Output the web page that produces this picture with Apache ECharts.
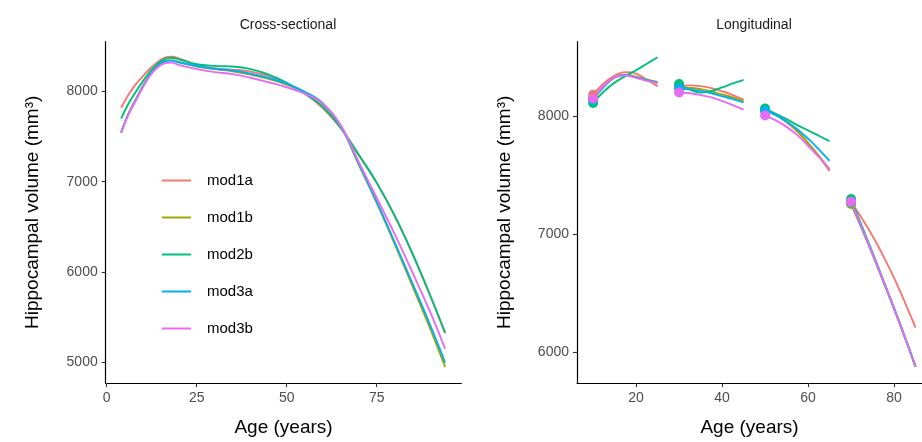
<!DOCTYPE html>
<html><head><meta charset="utf-8">
<script src="https://cdn.jsdelivr.net/npm/echarts@6/dist/echarts.min.js"></script>
<style>html,body{margin:0;padding:0;background:#fff}#c{width:922px;height:442px}</style>
</head><body><div id="c"></div>
<script>
// ---------- data ----------
const models = ['mod1a', 'mod1b', 'mod2b', 'mod3a', 'mod3b'];
const modelColors = ['#F8766D', '#A3A500', '#00BF7D', '#00B0F6', '#E76BF3'];

// Cross-sectional panel
const crossAges = [4, 6, 8, 10, 12, 14, 16, 18, 20, 25, 30, 35, 40, 45, 50, 55, 60, 65, 70, 75, 80, 85, 90, 94];
const cross_mod1a = [7818, 7960, 8075, 8165, 8250, 8320, 8370, 8383, 8365, 8290, 8255, 8240, 8218, 8170, 8090, 7975, 7815, 7592, 7294, 6985, 6620, 6195, 5722, 5322];
const cross_mod1b = [7543, 7750, 7905, 8055, 8185, 8280, 8335, 8345, 8325, 8275, 8245, 8222, 8185, 8138, 8075, 7988, 7860, 7610, 7190, 6765, 6310, 5840, 5360, 4950];
const cross_mod2b = [7697, 7860, 7990, 8110, 8215, 8300, 8355, 8372, 8355, 8300, 8282, 8275, 8245, 8185, 8095, 7975, 7830, 7600, 7300, 6990, 6625, 6200, 5730, 5330];
const cross_mod3a = [7543, 7745, 7900, 8050, 8180, 8275, 8330, 8340, 8320, 8280, 8250, 8230, 8195, 8148, 8085, 7995, 7870, 7620, 7200, 6780, 6330, 5870, 5400, 5000];
const cross_mod3b = [7543, 7740, 7890, 8040, 8170, 8260, 8310, 8318, 8292, 8245, 8212, 8190, 8150, 8100, 8045, 7975, 7865, 7625, 7220, 6820, 6420, 5990, 5545, 5150];

// Longitudinal panel: segments start at these ages, values at start + offsets
const longStarts = [10, 30, 50, 70];
const longOffsets = [0, 2.5, 5, 7.5, 10, 12.5, 15];
const long_mod1a = [
  [8183, 8280, 8345, 8374, 8362, 8310, 8253],
  [8255, 8262, 8255, 8238, 8212, 8180, 8141],
  [8050, 8010, 7950, 7870, 7770, 7660, 7536],
  [7270, 7135, 6985, 6815, 6630, 6425, 6208]
];
const long_mod1b = [
  [8150, 8255, 8330, 8352, 8335, 8310, 8290],
  [8245, 8240, 8230, 8210, 8185, 8160, 8130],
  [8055, 8015, 7955, 7875, 7775, 7665, 7545],
  [7256, 7045, 6828, 6600, 6368, 6128, 5878]
];
const long_mod2b = [
  [8113, 8210, 8285, 8340, 8390, 8445, 8500],
  [8273, 8225, 8200, 8215, 8245, 8278, 8309],
  [8065, 8020, 7975, 7925, 7880, 7835, 7789],
  [7298, 7070, 6845, 6610, 6375, 6130, 5880]
];
const long_mod3a = [
  [8141, 8250, 8330, 8350, 8330, 8305, 8287],
  [8235, 8228, 8215, 8195, 8170, 8145, 8118],
  [8045, 8010, 7955, 7890, 7810, 7720, 7621],
  [7270, 7052, 6832, 6602, 6370, 6128, 5875]
];
const long_mod3b = [
  [8150, 8260, 8330, 8345, 8325, 8300, 8280],
  [8202, 8195, 8180, 8160, 8130, 8095, 8056],
  [8006, 7965, 7910, 7840, 7750, 7655, 7551],
  [7275, 7055, 6835, 6605, 6372, 6130, 5877]
];

// tick labels
const crossXTicks = [0, 25, 50, 75];
const crossYTicks = [5000, 6000, 7000, 8000];
const longXTicks = [20, 40, 60, 80];
const longYTicks = [6000, 7000, 8000];

// ---------- build ----------
const FONT = '"Liberation Sans", Arial, Helvetica, sans-serif';
const crossSeries = [cross_mod1a, cross_mod1b, cross_mod2b, cross_mod3a, cross_mod3b];
const longSeries = [long_mod1a, long_mod1b, long_mod2b, long_mod3a, long_mod3b];

function axisBase(ticks) {
  return {
    type: 'value',
    axisLine: { show: true, onZero: false, lineStyle: { color: '#000', width: 1.2 } },
    axisTick: { show: true, length: 4, inside: false, customValues: ticks, lineStyle: { color: '#333', width: 1.1 } },
    axisLabel: { show: true, customValues: ticks, color: '#4D4D4D', fontSize: 14, fontFamily: FONT,
      formatter: v => String(v) },
    splitLine: { show: false }
  };
}

const series = [];
models.forEach((m, i) => {
  series.push({
    name: m, type: 'line', xAxisIndex: 0, yAxisIndex: 0,
    data: crossAges.map((a, k) => [a, crossSeries[i][k]]),
    smooth: 0.4, symbol: 'none', z: 2 + i,
    lineStyle: { color: modelColors[i], width: 1.9 },
    itemStyle: { color: modelColors[i] }
  });
});
models.forEach((m, i) => {
  longStarts.forEach((s, j) => {
    series.push({
      name: m, type: 'line', xAxisIndex: 1, yAxisIndex: 1,
      data: longOffsets.map((o, k) => [s + o, longSeries[i][j][k]]),
      smooth: 0.4, symbol: 'none', z: 2 + i,
      lineStyle: { color: modelColors[i], width: 1.9 },
      itemStyle: { color: modelColors[i] }
    });
  });
});
models.forEach((m, i) => {
  series.push({
    name: m, type: 'scatter', xAxisIndex: 1, yAxisIndex: 1,
    data: longStarts.map((s, j) => [s, longSeries[i][j][0]]),
    symbol: 'circle', symbolSize: 10, z: 10 + i,
    itemStyle: { color: modelColors[i], opacity: 1 }
  });
});

const option = {
  animation: false,
  backgroundColor: '#fff',
  textStyle: { fontFamily: FONT },
  title: [
    { text: 'Cross-sectional', left: 283, top: 13, textAlign: 'center',
      textStyle: { fontSize: 14, fontWeight: 'normal', color: '#1A1A1A', fontFamily: FONT } },
    { text: 'Longitudinal', left: 749, top: 13, textAlign: 'center',
      textStyle: { fontSize: 14, fontWeight: 'normal', color: '#1A1A1A', fontFamily: FONT } }
  ],
  legend: {
    orient: 'vertical', left: 162, top: 173, padding: 0,
    itemWidth: 29, itemHeight: 2, itemGap: 22,
    icon: 'rect',
    data: models,
    textStyle: { fontSize: 15, color: '#000', fontFamily: FONT, padding: [0, 0, 0, 11] }
  },
  grid: [
    { left: 105.7, top: 41.7, width: 355.6, height: 343.3 },
    { left: 577, top: 41.7, width: 345, height: 343.3 }
  ],
  xAxis: [
    Object.assign(axisBase(crossXTicks), { gridIndex: 0, min: -0.28, max: 98.5,
      name: 'Age (years)', nameLocation: 'middle', nameGap: 35,
      nameTextStyle: { fontSize: 19, color: '#000', fontFamily: FONT } }),
    Object.assign(axisBase(longXTicks), { gridIndex: 1, min: 6.25, max: 86.5,
      name: 'Age (years)', nameLocation: 'middle', nameGap: 35,
      nameTextStyle: { fontSize: 19, color: '#000', fontFamily: FONT } })
  ],
  yAxis: [
    Object.assign(axisBase(crossYTicks), { gridIndex: 0, min: 4773, max: 8549,
      name: 'Hippocampal volume (mm³)', nameLocation: 'middle', nameGap: 63,
      nameTextStyle: { fontSize: 19, color: '#000', fontFamily: FONT } }),
    Object.assign(axisBase(longYTicks), { gridIndex: 1, min: 5739, max: 8632,
      name: 'Hippocampal volume (mm³)', nameLocation: 'middle', nameGap: 63,
      nameTextStyle: { fontSize: 19, color: '#000', fontFamily: FONT } })
  ],
  series: series
};

const chart = echarts.init(document.getElementById('c'), null, { renderer: 'canvas' });
chart.setOption(option);
</script>
</body></html>
